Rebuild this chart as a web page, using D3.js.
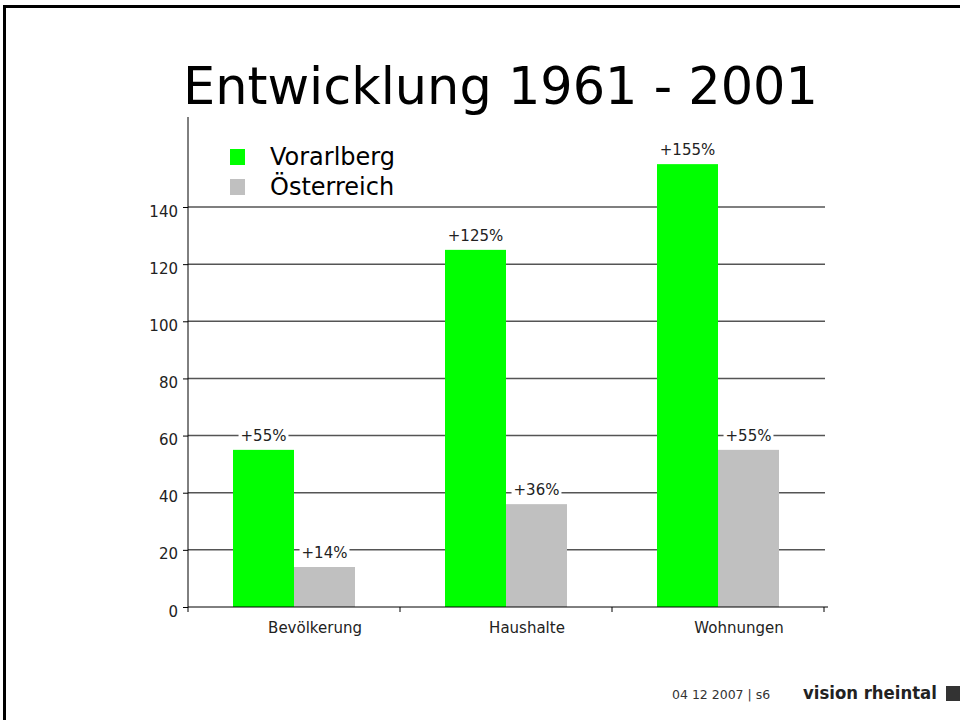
<!DOCTYPE html>
<html>
<head>
<meta charset="utf-8">
<script src="https://cdn.jsdelivr.net/npm/d3@7"></script>
<style>
  body { margin: 0; background: #fff; overflow: hidden; }
  svg { display: block; font-family: "DejaVu Sans", Verdana, sans-serif; }
</style>
</head>
<body>
<div id="chart"></div>
<script>
// data
var categories = ['Bevölkerung', 'Haushalte', 'Wohnungen']
var seriesNames = ['Vorarlberg', 'Österreich']
var vorarlberg = [55, 125, 155]
var oesterreich = [14, 36, 55]
var labelsV = ['+55%', '+125%', '+155%']
var labelsOe = ['+14%', '+36%', '+55%']
var yTicks = [0, 20, 40, 60, 80, 100, 120, 140]
var colors = ['#00ff00', '#c0c0c0']

var W = 960, H = 720

var svg = d3.select('#chart').append('svg')
    .attr('width', W)
    .attr('height', H)

// slide frame (only top + left edges are visible)
svg.append('path').attr('d', `M4.5,${H}V6.5H${W}`)
    .attr('fill', 'none').attr('stroke', '#000').attr('stroke-width', 3)

// title, fitted to the width it takes on the slide
var title = svg.append('text')
    .attr('x', 183).attr('y', 104)
    .attr('font-size', 44)
    .attr('fill', '#000')
    .text('Entwicklung 1961 - 2001')
var tw = title.node().getComputedTextLength()
title.attr('font-size', 44 * 635 / tw)

//scales
var x0 = d3.scaleBand().domain(categories).range([188, 824])
var x1 = d3.scaleBand().domain(seriesNames).range([45, 167])
var y = d3.scaleLinear().domain([0, 171.5]).range([607, 117])

// gridlines
svg.append('g').selectAll('line')
    .data(yTicks.filter(d => d > 0))
    .join('line')
    .attr('x1', 188).attr('x2', 825)
    .attr('y1', d => y(d)).attr('y2', d => y(d))
    .attr('stroke', '#555').attr('stroke-width', 1.5)

// y axis
var yAxis = d3.axisLeft(y).tickValues(yTicks).tickSize(5).tickFormat(d3.format('d'))
var gy = svg.append('g').attr('transform', 'translate(188,0)').call(yAxis)
gy.select('.domain').attr('d', `M0,${y(171.5)}V${y(0)}`).attr('stroke', '#000')
gy.selectAll('.tick line').attr('stroke', '#000')
gy.selectAll('.tick text')
    .attr('x', -10).attr('dy', '0.6em')
    .attr('font-size', 15).attr('fill', '#222')
    .attr('font-family', '"DejaVu Sans", Verdana, sans-serif')

// bars
var rows = categories.map((c, i) => ({cat: c, vals: [vorarlberg[i], oesterreich[i]], labs: [labelsV[i], labelsOe[i]]}))
var groups = svg.append('g').selectAll('g')
    .data(rows)
    .join('g')
    .attr('transform', d => `translate(${x0(d.cat)},0)`)

var items = groups.selectAll('g')
    .data(d => seriesNames.map((s, j) => ({s: s, v: d.vals[j], lab: d.labs[j], c: colors[j]})))
    .join('g')

items.append('rect')
    .attr('x', d => x1(d.s))
    .attr('width', x1.bandwidth())
    .attr('y', d => y(d.v))
    .attr('height', d => y(0) - y(d.v))
    .attr('fill', d => d.c)

// value labels with white backing so the gridlines break around them
items.each(function(d){
    var g = d3.select(this)
    var t = g.append('text')
        .attr('x', x1(d.s) + x1.bandwidth() / 2)
        .attr('y', y(d.v) - 9)
        .attr('text-anchor', 'middle')
        .attr('font-size', 15)
        .attr('fill', '#222')
        .text(d.lab)
    var bb = t.node().getBBox()
    g.insert('rect', 'text')
        .attr('x', bb.x - 2).attr('y', bb.y + 2)
        .attr('width', bb.width + 4).attr('height', bb.height - 3)
        .attr('fill', '#fff')
})

// x axis
var xAxis = d3.axisBottom(x0).tickSize(0).tickSizeOuter(0)
var gx = svg.append('g').attr('transform', `translate(0,${y(0)})`).call(xAxis)
gx.select('.domain').attr('d', `M188,0H828`).attr('stroke', '#000')
gx.selectAll('.tick text')
    .attr('dx', 21).attr('dy', 0).attr('y', 26)
    .attr('font-size', 15).attr('fill', '#222')
    .attr('font-family', '"DejaVu Sans", Verdana, sans-serif')
// category separators
svg.append('g').selectAll('line')
    .data(categories.map(c => x0(c)).concat([x0.range()[1]]))
    .join('line')
    .attr('x1', d => d).attr('x2', d => d)
    .attr('y1', y(0)).attr('y2', y(0) + 5)
    .attr('stroke', '#000')

// legend
var legend = svg.append('g').selectAll('g')
    .data(seriesNames)
    .join('g')
    .attr('transform', (d, i) => `translate(230,${149 + i * 30})`)
legend.append('rect').attr('width', 15).attr('height', 16).attr('fill', (d, i) => colors[i])
legend.append('text').attr('x', 40).attr('y', 16)
    .attr('font-size', 24).attr('fill', '#000')
    .text(d => d)

// footer
svg.append('text').attr('x', 672).attr('y', 699)
    .attr('font-size', 12.5).attr('fill', '#333')
    .text('04 12 2007 | s6')
var brand = svg.append('text').attr('x', 803).attr('y', 699)
    .attr('font-size', 18).attr('font-weight', 'bold').attr('fill', '#222')
    .attr('font-family', '"DejaVu Sans Condensed", "DejaVu Sans", sans-serif')
    .text('vision rheintal')
var bw = brand.node().getComputedTextLength()
brand.attr('font-size', 18 * 134 / bw)
svg.append('rect').attr('x', 946).attr('y', 686).attr('width', 14).attr('height', 15).attr('fill', '#333')
</script>
</body>
</html>
